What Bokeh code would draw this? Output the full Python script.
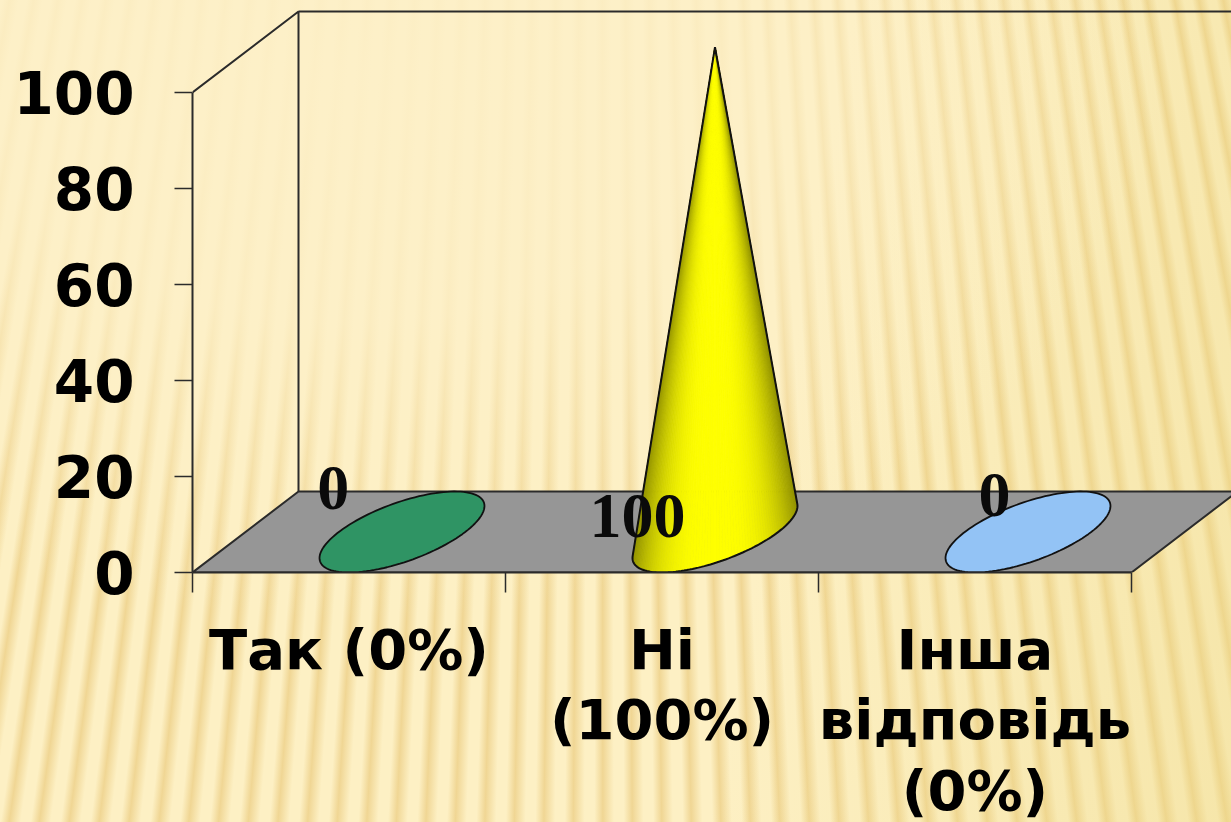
import numpy as np
from bokeh.plotting import figure
from bokeh.models import ColumnDataSource, FixedTicker, Range1d
from bokeh.core.properties import value
from bokeh.embed import file_html
from bokeh.resources import INLINE

categories = ["Так (0%)", "Ні\n(100%)", "Інша\nвідповідь\n(0%)"]
values = [0, 100, 0]
y_ticks = [0, 20, 40, 60, 80, 100]
base_colors = ["#2f9464", "#ffff00", "#93c3f5"]

# layout of the 3-D box, in axis units
CAT_PX = 313.0
VAL_PX = 4.8
FRAME_W, FRAME_H = 1039, 564
DEPTH_X = 106 / CAT_PX
DEPTH_Y = 81 / VAL_PX
BASE_A = 63.2 / CAT_PX
LABEL_DX = [-0.050, -0.078, 0.062]
LABEL_Y = [17.6, 11.7, 16.2]
INK = "#2b2b2b"

p = figure(frame_width=FRAME_W, frame_height=FRAME_H, output_backend="svg", toolbar_location=None,
           x_range=Range1d(0, FRAME_W / CAT_PX), y_range=Range1d(0, FRAME_H / VAL_PX),
           min_border_left=184, min_border_right=0, min_border_top=0, min_border_bottom=240,
           background_fill_color=None, border_fill_color=None, outline_line_color=None)
p.grid.visible = False

# axes
yax = p.yaxis[0]
yax.ticker = FixedTicker(ticks=y_ticks)
yax.bounds = (0, 100)
yax.major_tick_in = 0
yax.major_tick_out = 18
yax.minor_tick_out = 0
yax.minor_tick_in = 0
yax.major_tick_line_color = INK
yax.major_tick_line_width = 1.5
yax.axis_line_color = INK
yax.axis_line_width = 2
yax.major_label_standoff = 40
yax.major_label_text_font = "DejaVu Sans"
yax.major_label_text_font_style = "bold"
yax.major_label_text_font_size = "58px"
yax.major_label_text_color = "#000000"

n = len(categories)
xax = p.xaxis[0]
xax.ticker = FixedTicker(ticks=[i + 0.5 for i in range(n)], minor_ticks=list(range(n + 1)))
xax.major_label_overrides = {i + 0.5: c for i, c in enumerate(categories)}
xax.bounds = (0, n)
xax.major_tick_in = 0
xax.major_tick_out = 0
xax.minor_tick_in = 0
xax.minor_tick_out = 20
xax.minor_tick_line_color = INK
xax.minor_tick_line_width = 1.5
xax.axis_line_color = INK
xax.axis_line_width = 2
xax.major_label_standoff = 24
xax.major_label_orientation = "horizontal"
xax.major_label_text_font = "DejaVu Sans"
xax.major_label_text_font_style = "bold"
xax.major_label_text_font_size = "56px"
xax.major_label_text_color = "#000000"
xax.major_label_text_line_height = 1.09

# floor and walls
top = max(y_ticks)
p.patch([0, n, n + DEPTH_X, DEPTH_X], [0, 0, DEPTH_Y, DEPTH_Y],
        fill_color="#969696", line_color=INK, line_width=2)
p.line([0, DEPTH_X, DEPTH_X], [top, top + DEPTH_Y, DEPTH_Y], line_color=INK, line_width=2)
p.line([DEPTH_X, n + DEPTH_X], [top + DEPTH_Y, top + DEPTH_Y], line_color=INK, line_width=2)


def ring(t, cx):
    return (cx + BASE_A * np.cos(t) + DEPTH_X / 2 * np.sin(t),
            DEPTH_Y / 2 + DEPTH_Y / 2 * np.sin(t))


for i, (v, col) in enumerate(zip(values, base_colors)):
    cx = i + 0.5 + DEPTH_X / 2
    if v == 0:
        t = np.linspace(0, 2 * np.pi, 120)
        ex, ey = ring(t, cx)
        p.patch(ex, ey, fill_color=col, line_color="#111111", line_width=1.8)
        continue
    # apex expressed in the unit-circle coordinates of the base ellipse
    beta = v / (DEPTH_Y / 2)
    alpha = -beta * (DEPTH_X / 2) / BASE_A
    phi = np.arctan2(beta, alpha)
    gap = np.arccos(1 / np.hypot(alpha, beta))
    t = np.linspace(phi + gap, phi + 2 * np.pi - gap, 90)
    ex, ey = ring(t, cx)
    ax_, ay_ = cx, v + DEPTH_Y / 2 + 1.0
    w = (ex - ex.min()) / (ex.max() - ex.min())
    xs, ys, colors = [], [], []
    r, g, b = 255, 255, 0
    for k in range(len(t) - 1):
        m = abs(2 * (w[k] + w[k + 1]) / 2 - 1)
        f = 1 - 0.42 * m ** 3
        colors.append("#%02x%02x%02x" % (int(r * f), int(g * f), 0))
        xs.append([ax_, ex[k], ex[k + 1]])
        ys.append([ay_, ey[k], ey[k + 1]])
    p.patches("xs", "ys", source=ColumnDataSource(dict(xs=xs, ys=ys, c=colors)),
              fill_color="c", line_color="c", line_width=0.8)
    p.patch(np.r_[ax_, ex], np.r_[ay_, ey], fill_color=None, line_color="#111111", line_width=2)

p.text(x=[i + 0.5 + d for i, d in enumerate(LABEL_DX)], y=LABEL_Y, text=[str(v) for v in values],
       text_font=value("Liberation Serif"), text_font_style="bold", text_font_size="64px",
       text_color="#0a0a0a", text_align="center", text_baseline="middle")

CSS = """<style>
html,body{margin:0;padding:0;overflow:hidden}
body{margin:8px 0 0 8px;
background-attachment:fixed;
background-color:#fbecbb;
background-image:
 radial-gradient(ellipse 820px 540px at 350px 80px,rgba(253,240,200,.97) 0%,rgba(253,240,200,.85) 45%,rgba(253,240,200,.3) 80%,rgba(253,240,200,0) 100%),
 linear-gradient(100deg,rgba(235,215,130,0) 62%,rgba(235,215,130,.4) 100%),
 repeating-conic-gradient(from 170deg at 600px -3200px,#fdf0c4 0deg,#fdf0c4 .14deg,#f0d694 .3deg,#fdf0c4 .42deg);
}
</style></head>"""
html = file_html(p, INLINE).replace("</head>", CSS, 1)
open("out.html", "w").write(html)
